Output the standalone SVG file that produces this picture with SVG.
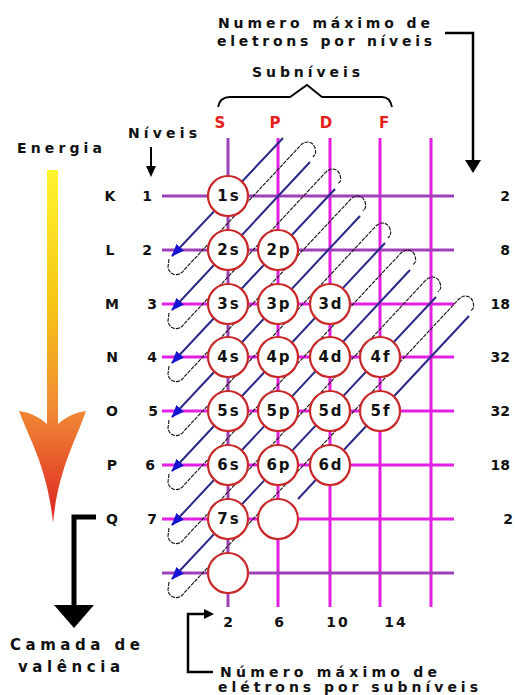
<svg xmlns="http://www.w3.org/2000/svg" width="515" height="695" viewBox="0 0 515 695">
<defs>
<style>
.t{font-family:"DejaVu Sans",Verdana,sans-serif;font-weight:bold;fill:#111}
.lv{font-size:14px;text-anchor:middle}
.orb{font-size:15px;text-anchor:middle;letter-spacing:2px}
.hd{font-family:"DejaVu Sans",Verdana,sans-serif;font-weight:bold;font-size:15px;fill:#e8201c;text-anchor:middle}
.gp{stroke:#a040b8;stroke-width:3}
.gm{stroke:#e41fe4;stroke-width:3}
.bl{stroke:#28288a;stroke-width:2;fill:none}
.dt{stroke:#111;stroke-width:1.1;fill:none;stroke-dasharray:4 1}
.ci{fill:#fff;stroke:#c82828;stroke-width:2.2}
.bk{stroke:#000;fill:none}
</style>
<marker id="ah" markerUnits="userSpaceOnUse" markerWidth="13" markerHeight="10" viewBox="0 0 13 10" refX="12" refY="5" orient="auto">
<path d="M0,0 L13,5 L0,10 Z" fill="#1414d2"/>
</marker>
<linearGradient id="eg" gradientUnits="userSpaceOnUse" x1="0" y1="170" x2="0" y2="523">
<stop offset="0" stop-color="#fff530"/>
<stop offset="0.38" stop-color="#f6c515"/>
<stop offset="0.68" stop-color="#f08a35"/>
<stop offset="1" stop-color="#dd2020"/>
</linearGradient>
</defs>
<rect width="515" height="695" fill="#fff"/>

<g id="titles">
<text class="t" x="218" y="28" font-size="14" textLength="212" lengthAdjust="spacing">Numero máximo de</text>
<text class="t" x="217" y="46" font-size="14" textLength="215" lengthAdjust="spacing">eletrons por níveis</text>
<text class="t" x="252" y="77" font-size="14" textLength="108" lengthAdjust="spacing">Subníveis</text>
<path class="bk" stroke-width="1.8" d="M218,107 Q220,97 230,97 H290 L307,85 L322,97 H382 Q390,97 392,107"/>
<polyline class="bk" stroke-width="2.5" points="445,33 473,33 473,162"/>
<polygon points="465,160 481,160 473,173" fill="#000"/>
<text class="t" x="128" y="138" font-size="14" textLength="69" lengthAdjust="spacing">Níveis</text>
<line class="bk" stroke-width="2" x1="151" y1="147" x2="151" y2="168"/>
<polygon points="146,166 156,166 151,177" fill="#000"/>
</g>

<g id="energy">
<text class="t" x="17" y="153" font-size="14" textLength="85" lengthAdjust="spacing">Energia</text>
<path d="M47,170 H58 V424 Q70,413 86,411 C76,440 58,470 53,523 C48,470 30,440 19,411 Q35,413 47,424 Z" fill="url(#eg)"/>
</g>

<g id="valencia">
<polyline class="bk" stroke-width="5" points="96,517 74,517 74,607"/>
<polygon points="54,605 94,605 74,628" fill="#000"/>
<text class="t" x="10" y="650" font-size="15" textLength="130" lengthAdjust="spacing">Camada de</text>
<text class="t" x="18" y="672" font-size="15" textLength="102" lengthAdjust="spacing">valência</text>
</g>

<g id="subnivel-note">
<polyline class="bk" stroke-width="2.5" points="206,614 188,614 188,672 213,672"/>
<polygon points="204,609 204,619 214,614" fill="#000"/>
<text class="t" x="220" y="677" font-size="14" textLength="217" lengthAdjust="spacing">Número máximo de</text>
<text class="t" x="218" y="692" font-size="14" textLength="260" lengthAdjust="spacing">elétrons por subníveis</text>
</g>

<g id="headers">
<text class="hd" x="220" y="128">S</text>
<text class="hd" x="275" y="128">P</text>
<text class="hd" x="326" y="128">D</text>
<text class="hd" x="384" y="128">F</text>
</g>

<g id="grid">
<line class="gp" x1="228" y1="138" x2="228" y2="607"/>
<line class="gm" x1="278" y1="138" x2="278" y2="607"/>
<line class="gm" x1="330" y1="138" x2="330" y2="607"/>
<line class="gm" x1="380" y1="138" x2="380" y2="607"/>
<line class="gm" x1="431" y1="138" x2="431" y2="607"/>
<line class="gp" x1="162" y1="196" x2="454" y2="196"/>
<line class="gp" x1="162" y1="250" x2="454" y2="250"/>
<line class="gm" x1="162" y1="304" x2="454" y2="304"/>
<line class="gm" x1="162" y1="357" x2="454" y2="357"/>
<line class="gm" x1="162" y1="411" x2="454" y2="411"/>
<line class="gm" x1="162" y1="465" x2="454" y2="465"/>
<line class="gm" x1="162" y1="519" x2="454" y2="519"/>
<line class="gp" x1="162" y1="573" x2="454" y2="573"/>
</g>

<g id="connectors">
<path class="dt" d="M169,259 L168,267 C169,276 180,277 184,270 L300,146 C305,140 313,141 315,148 S314,155 313,157"/>
<path class="dt" d="M169,313 L168,321 C169,330 180,331 184,324 L325,173 C330,167 338,168 340,175 S339,182 338,184"/>
<path class="dt" d="M169,366 L168,374 C169,383 180,384 184,377 L350,200 C355,194 363,195 365,202 S364,209 363,211"/>
<path class="dt" d="M169,420 L168,428 C169,437 180,438 184,431 L375,227 C380,221 388,222 390,229 S389,236 388,238"/>
<path class="dt" d="M169,474 L168,482 C169,491 180,492 184,485 L400,254 C405,248 413,249 415,256 S414,263 413,265"/>
<path class="dt" d="M169,528 L168,536 C169,545 180,546 184,539 L425,281 C430,275 438,276 440,283 S439,290 438,292"/>
<path class="dt" d="M169,582 L168,590 C169,599 180,600 184,593 L458,300 C463,294 471,295 473,302 S472,309 471,311"/>
<line class="bl" x1="283" y1="138" x2="172" y2="256" marker-end="url(#ah)"/>
<line class="bl" x1="310" y1="162" x2="172" y2="310" marker-end="url(#ah)"/>
<line class="bl" x1="335" y1="189" x2="172" y2="363" marker-end="url(#ah)"/>
<line class="bl" x1="360" y1="216" x2="172" y2="417" marker-end="url(#ah)"/>
<line class="bl" x1="385" y1="243" x2="172" y2="471" marker-end="url(#ah)"/>
<line class="bl" x1="410" y1="270" x2="172" y2="525" marker-end="url(#ah)"/>
<line class="bl" x1="436" y1="297" x2="172" y2="579" marker-end="url(#ah)"/>
<line class="bl" x1="469" y1="316" x2="298" y2="499"/>
</g>

<g id="levels">
<text class="t lv" x="110" y="201">K</text><text class="t lv" x="147" y="201">1</text>
<text class="t lv" x="110" y="255">L</text><text class="t lv" x="147" y="255">2</text>
<text class="t lv" x="112" y="309">M</text><text class="t lv" x="152" y="309">3</text>
<text class="t lv" x="112" y="362">N</text><text class="t lv" x="152" y="362">4</text>
<text class="t lv" x="112" y="416">O</text><text class="t lv" x="153" y="416">5</text>
<text class="t lv" x="112" y="470">P</text><text class="t lv" x="150" y="470">6</text>
<text class="t lv" x="112" y="524">Q</text><text class="t lv" x="152" y="524">7</text>
</g>

<g id="max-level">
<text class="t" x="510" y="201" font-size="14" text-anchor="end">2</text>
<text class="t" x="510" y="255" font-size="14" text-anchor="end">8</text>
<text class="t" x="510" y="309" font-size="14" text-anchor="end">18</text>
<text class="t" x="510" y="362" font-size="14" text-anchor="end">32</text>
<text class="t" x="510" y="416" font-size="14" text-anchor="end">32</text>
<text class="t" x="510" y="470" font-size="14" text-anchor="end">18</text>
<text class="t" x="513" y="524" font-size="14" text-anchor="end">2</text>
</g>

<g id="max-sub">
<text class="t lv" x="228" y="627">2</text>
<text class="t lv" x="279" y="627">6</text>
<text class="t lv" x="338" y="627" letter-spacing="2">10</text>
<text class="t lv" x="396" y="627" letter-spacing="2">14</text>
</g>

<g id="o1s"><circle class="ci" cx="228" cy="196" r="20"/><text class="t orb" x="229" y="201">1s</text></g>
<g id="o2s"><circle class="ci" cx="228" cy="250" r="20"/><text class="t orb" x="229" y="255">2s</text></g>
<g id="o2p"><circle class="ci" cx="278" cy="250" r="20"/><text class="t orb" x="279" y="255">2p</text></g>
<g id="o3s"><circle class="ci" cx="228" cy="304" r="20"/><text class="t orb" x="229" y="309">3s</text></g>
<g id="o3p"><circle class="ci" cx="278" cy="304" r="20"/><text class="t orb" x="279" y="309">3p</text></g>
<g id="o3d"><circle class="ci" cx="330" cy="304" r="20"/><text class="t orb" x="331" y="309">3d</text></g>
<g id="o4s"><circle class="ci" cx="228" cy="357" r="20"/><text class="t orb" x="229" y="362">4s</text></g>
<g id="o4p"><circle class="ci" cx="278" cy="357" r="20"/><text class="t orb" x="279" y="362">4p</text></g>
<g id="o4d"><circle class="ci" cx="330" cy="357" r="20"/><text class="t orb" x="331" y="362">4d</text></g>
<g id="o4f"><circle class="ci" cx="380" cy="357" r="20"/><text class="t orb" x="381" y="362">4f</text></g>
<g id="o5s"><circle class="ci" cx="228" cy="411" r="20"/><text class="t orb" x="229" y="416">5s</text></g>
<g id="o5p"><circle class="ci" cx="278" cy="411" r="20"/><text class="t orb" x="279" y="416">5p</text></g>
<g id="o5d"><circle class="ci" cx="330" cy="411" r="20"/><text class="t orb" x="331" y="416">5d</text></g>
<g id="o5f"><circle class="ci" cx="380" cy="411" r="20"/><text class="t orb" x="381" y="416">5f</text></g>
<g id="o6s"><circle class="ci" cx="228" cy="465" r="20"/><text class="t orb" x="229" y="470">6s</text></g>
<g id="o6p"><circle class="ci" cx="278" cy="465" r="20"/><text class="t orb" x="279" y="470">6p</text></g>
<g id="o6d"><circle class="ci" cx="330" cy="465" r="20"/><text class="t orb" x="331" y="470">6d</text></g>
<g id="o7s"><circle class="ci" cx="228" cy="519" r="20"/><text class="t orb" x="229" y="524">7s</text></g>
<g id="o7p"><circle class="ci" cx="278" cy="519" r="20"/></g>
<g id="o8s"><circle class="ci" cx="228" cy="573" r="20"/></g>
</svg>
